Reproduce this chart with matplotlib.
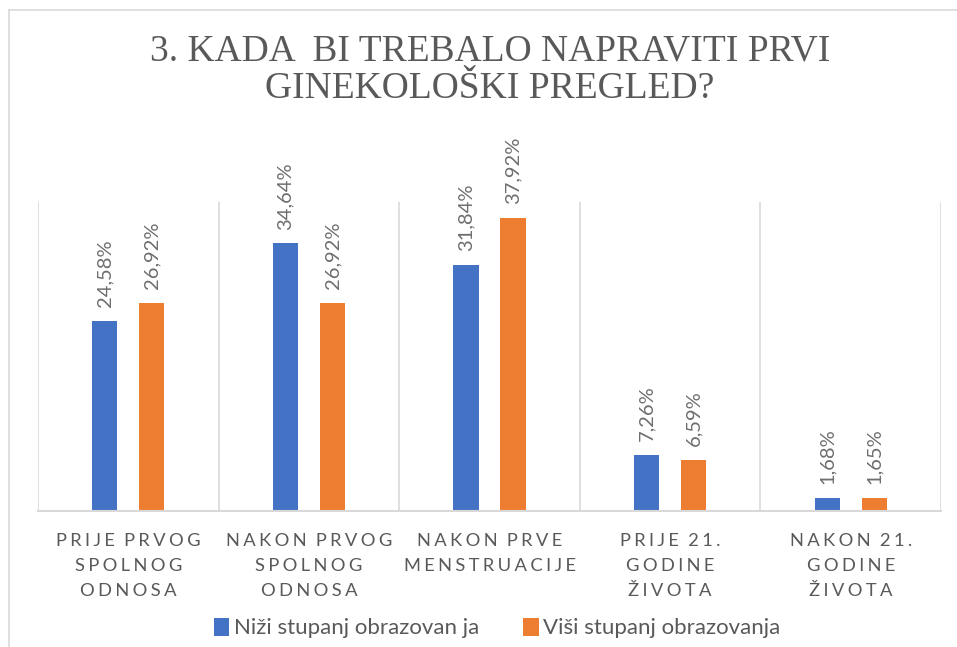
import matplotlib

matplotlib.use("Agg")
import matplotlib.pyplot as plt
import numpy as np
from matplotlib.lines import Line2D
from matplotlib.patches import Patch

TITLE = "3. KADA  BI TREBALO NAPRAVITI PRVI\nGINEKOLOŠKI PREGLED?"
CATEGORIES = [
    "PRIJE PRVOG\nSPOLNOG\nODNOSA",
    "NAKON PRVOG\nSPOLNOG\nODNOSA",
    "NAKON PRVE\nMENSTRUACIJE",
    "PRIJE 21.\nGODINE\nŽIVOTA",
    "NAKON 21.\nGODINE\nŽIVOTA",
]
SERIES_NAMES = ["Niži stupanj obrazovan ja", "Viši stupanj obrazovanja"]
NIZI = [24.58, 34.64, 31.84, 7.26, 1.68]
VISI = [26.92, 26.92, 37.92, 6.59, 1.65]
COLORS = ["#4472C4", "#ED7D31"]

TEXT_GRAY = "#595959"
LABEL_GRAY = "#6e6e6e"
LINE_GRAY = "#D9D9D9"
FONTS = ["Lato", "DejaVu Sans"]


def spaced(text: str, sep: str = "\u2009\u200a") -> str:
    # fake letter spacing with thin/hair spaces
    lines = []
    for line in text.split("\n"):
        words = [sep.join(w) for w in line.split(" ")]
        lines.append((sep + " " + "\u200a").join(words))
    return "\n".join(lines)


fig = plt.figure(figsize=(9.57, 6.47), dpi=100)
ax = fig.add_axes([38 / 957, 136 / 647, 903 / 957, 309 / 647])

x = np.arange(len(CATEGORIES))
offset = 0.13
width = 0.14
for vals, dx, color, name in zip((NIZI, VISI), (-offset, offset), COLORS, SERIES_NAMES):
    bars = ax.bar(x + dx, vals, width=width, color=color, label=name, zorder=2)
    for rect, v in zip(bars, vals):
        ax.annotate(
            f"{v:.2f}%".replace(".", ","),
            (rect.get_x() + rect.get_width() / 2, rect.get_height()),
            xytext=(0, 10),
            textcoords="offset points",
            rotation=90,
            ha="center",
            va="bottom",
            fontsize=14.5,
            color=LABEL_GRAY,
            family=FONTS,
        )

ax.set_xlim(-0.5, len(CATEGORIES) - 0.5)
ax.set_ylim(0, 40)
for b in np.arange(len(CATEGORIES) + 1) - 0.5:
    ax.axvline(b, color=LINE_GRAY, linewidth=1.2, zorder=1)

for side in ("top", "right", "left"):
    ax.spines[side].set_visible(False)
ax.spines["bottom"].set_color(LINE_GRAY)
ax.spines["bottom"].set_linewidth(1.5)
ax.set_yticks([])
ax.set_xticks(x)
ax.set_xticklabels([spaced(c, "\u2009\u200a") for c in CATEGORIES], fontsize=13.2,
                   color=TEXT_GRAY, family=FONTS, linespacing=1.68, va="top")
ax.tick_params(axis="x", length=0, pad=16)

fig.text(490 / 957, 1 - 70 / 647, TITLE, ha="center", va="center", fontsize=27,
         family="Liberation Serif", color=TEXT_GRAY, linespacing=1.12)

handles = [Patch(facecolor=c) for c in COLORS]
fig.legend(handles, SERIES_NAMES, loc="center", bbox_to_anchor=(497 / 957, 1 - 628 / 647),
           ncol=2, frameon=False, handlelength=0.7, handleheight=0.9, handletextpad=0.2,
           columnspacing=2.0, prop={"family": FONTS, "size": 16}, labelcolor=TEXT_GRAY)

# outer chart frame (left and top edges visible in the crop)
fig.add_artist(Line2D([9 / 957, 1], [1 - 10 / 647, 1 - 10 / 647], color=LINE_GRAY,
                      linewidth=1.2, transform=fig.transFigure))
fig.add_artist(Line2D([9 / 957, 9 / 957], [0, 1 - 10 / 647], color=LINE_GRAY,
                      linewidth=1.2, transform=fig.transFigure))

fig.savefig("out.png", dpi=100)
